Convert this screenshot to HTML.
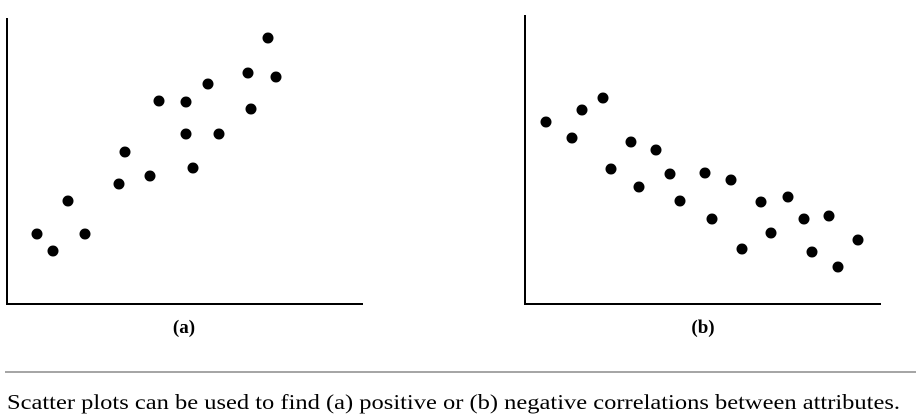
<!DOCTYPE html>
<html><head><meta charset="utf-8"><style>
html,body{margin:0;padding:0;background:#fff;width:916px;height:417px;overflow:hidden}
svg{display:block}
.t{font-family:"Liberation Serif","Times New Roman",serif}
</style></head><body>
<svg id="chart" width="916" height="417">
  <g>
    <line x1="7" y1="18" x2="7" y2="304" stroke="#000" stroke-width="2"/>
    <line x1="6" y1="304" x2="363" y2="304" stroke="#000" stroke-width="2"/>
  </g>
  <g>
    <line x1="525" y1="15" x2="525" y2="304" stroke="#000" stroke-width="2"/>
    <line x1="524" y1="304" x2="881" y2="304" stroke="#000" stroke-width="2"/>
  </g>
  <g id="pa"></g>
  <g id="pb"></g>
  <text class="t" x="184" y="333" text-anchor="middle" font-weight="bold" font-size="19">(a)</text>
  <text class="t" x="703" y="333" text-anchor="middle" font-weight="bold" font-size="19">(b)</text>
  <line x1="5" y1="372" x2="916" y2="372" stroke="#888" stroke-width="1.5"/>
  <text class="t" x="7" y="409" font-size="21" textLength="893" lengthAdjust="spacingAndGlyphs">Scatter plots can be used to find (a) positive or (b) negative correlations between attributes.</text>
</svg>
<script>
const aX=[30,46,61,78,112,118,143,152,179,179,186,201,212,241,244,261,269];
const aY=[70,53,103,70,120,152,128,203,202,170,136,220,170,231,195,266,227];
const bX=[21,47,57,78,86,106,114,131,145,155,180,187,206,217,236,246,263,279,287,304,313,333];
const bY=[182,166,194,206,135,162,117,154,130,103,131,85,124,55,102,71,107,85,52,88,37,64];
function sx(o){return v=>o+v;}
function sy(o){return v=>o-v;}
function draw(id,xs,ys,ox,oy,name){
  const g=document.getElementById(id),X=sx(ox),Y=sy(oy);
  xs.forEach((v,i)=>{
    const c=document.createElementNS('http://www.w3.org/2000/svg','circle');
    c.setAttribute('cx',X(v));c.setAttribute('cy',Y(ys[i]));c.setAttribute('r',5.5);c.setAttribute('fill','#000');
    
    
    g.appendChild(c);
  });
}
draw('pa',aX,aY,7,304,'panel-a');
draw('pb',bX,bY,525,304,'panel-b');
</script>
</body></html>
